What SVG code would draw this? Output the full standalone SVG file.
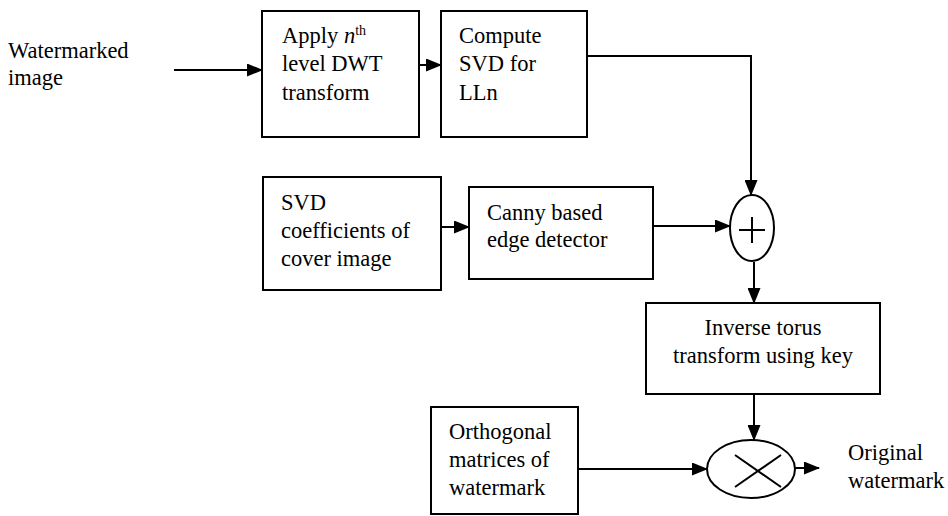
<svg xmlns="http://www.w3.org/2000/svg" width="948" height="516" viewBox="0 0 948 516">
<style>
.box{fill:#fff;stroke:#000;stroke-width:2}
.ln{fill:none;stroke:#000;stroke-width:2}
.t{font-family:"Liberation Serif","Times New Roman",serif;font-size:22.5px;fill:#000}
</style>
<defs>
<marker id="ah" markerUnits="userSpaceOnUse" markerWidth="16" markerHeight="13" refX="15" refY="6.5" orient="auto">
<path d="M0,0 L16,6.5 L0,13 Z" fill="#000"/>
</marker>
</defs>
<rect width="948" height="516" fill="#fff"/>
<g id="connectors">
<line class="ln" x1="174" y1="70" x2="262" y2="70" marker-end="url(#ah)"/>
<line class="ln" x1="419" y1="65" x2="441" y2="65" marker-end="url(#ah)"/>
<polyline class="ln" points="587,56 751,56 751,195" marker-end="url(#ah)"/>
<line class="ln" x1="441" y1="227" x2="469" y2="227" marker-end="url(#ah)"/>
<line class="ln" x1="653" y1="226" x2="730" y2="226" marker-end="url(#ah)"/>
<line class="ln" x1="754" y1="262" x2="754" y2="303" marker-end="url(#ah)"/>
<line class="ln" x1="754" y1="394" x2="754" y2="440" marker-end="url(#ah)"/>
<line class="ln" x1="578" y1="469" x2="707" y2="469" marker-end="url(#ah)"/>
<line class="ln" x1="795" y1="468" x2="819" y2="468" marker-end="url(#ah)"/>
</g>
<g id="input-label">
<text class="t" x="8" y="58">Watermarked</text>
<text class="t" x="8" y="85">image</text>
</g>
<g id="dwt">
<rect class="box" x="262" y="11" width="157" height="126"/>
<text class="t" x="282" y="43">Apply <tspan font-style="italic">n</tspan><tspan font-size="14" dy="-8">th</tspan></text>
<text class="t" x="282" y="71">level DWT</text>
<text class="t" x="282" y="100">transform</text>
</g>
<g id="svd-lln">
<rect class="box" x="441" y="11" width="146" height="126"/>
<text class="t" x="459" y="43">Compute</text>
<text class="t" x="459" y="71">SVD for</text>
<text class="t" x="459" y="100">LLn</text>
</g>
<g id="svd-cover">
<rect class="box" x="263" y="177" width="178" height="113"/>
<text class="t" x="281" y="210">SVD</text>
<text class="t" x="281" y="238">coefficients of</text>
<text class="t" x="281" y="266">cover image</text>
</g>
<g id="canny">
<rect class="box" x="469" y="187" width="184" height="92"/>
<text class="t" x="487" y="220">Canny based</text>
<text class="t" x="487" y="247">edge detector</text>
</g>
<g id="adder">
<ellipse class="box" cx="752" cy="228" rx="22" ry="33"/>
<line class="ln" x1="739" y1="230" x2="765" y2="230"/>
<line class="ln" x1="752" y1="217" x2="752" y2="243"/>
</g>
<g id="inverse-torus">
<rect class="box" x="646" y="303" width="234" height="91"/>
<text class="t" x="763" y="335" text-anchor="middle">Inverse torus</text>
<text class="t" x="763" y="363" text-anchor="middle">transform using key</text>
</g>
<g id="orthogonal">
<rect class="box" x="431" y="407" width="147" height="107"/>
<text class="t" x="449" y="439">Orthogonal</text>
<text class="t" x="449" y="467">matrices of</text>
<text class="t" x="449" y="495">watermark</text>
</g>
<g id="multiplier">
<ellipse class="box" cx="751" cy="469" rx="44" ry="29"/>
<line class="ln" x1="735" y1="455" x2="781" y2="487"/>
<line class="ln" x1="781" y1="455" x2="735" y2="487"/>
</g>
<g id="output-label">
<text class="t" x="848" y="460">Original</text>
<text class="t" x="848" y="488">watermark</text>
</g>
</svg>
